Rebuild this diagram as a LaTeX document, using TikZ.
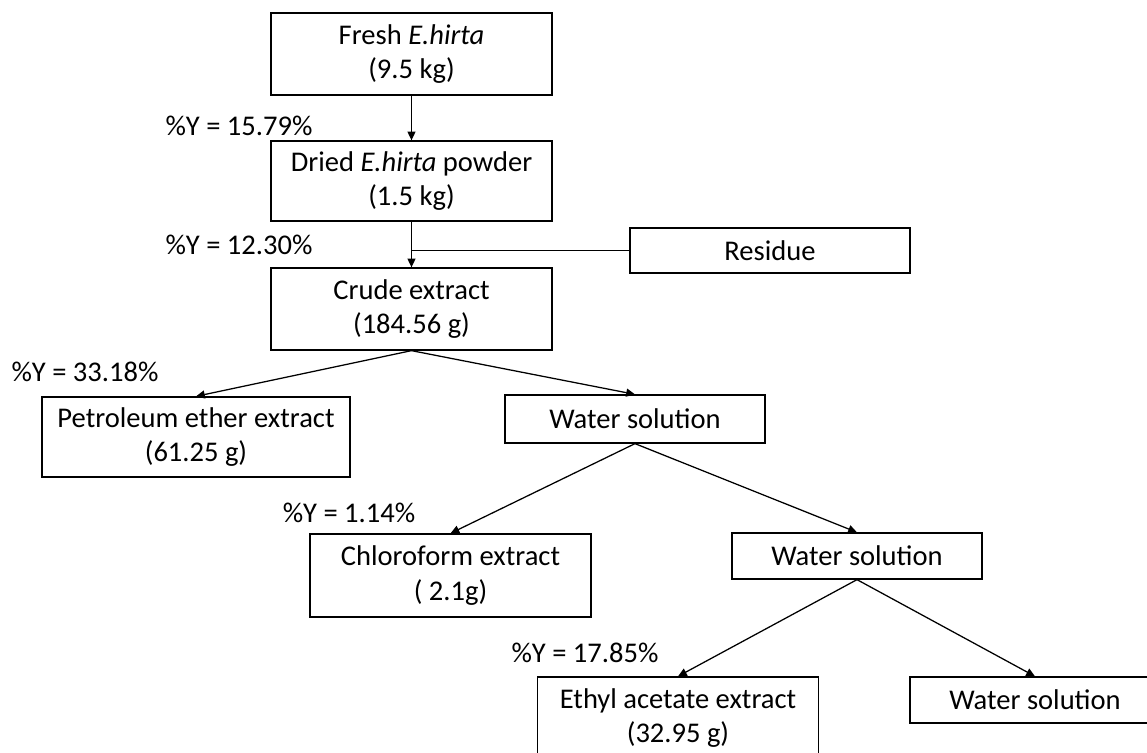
\documentclass[tikz,border=0pt]{standalone}
\usepackage{fontspec}
\setmainfont{Carlito}
\usetikzlibrary{arrows.meta,calc}

\begin{document}
\begin{tikzpicture}[x=0.025cm,y=-0.025cm,
    box/.style={draw,line width=0.9pt,align=center,inner sep=0pt,
        font=\fontsize{20.3}{24.5}\selectfont},
    yield/.style={inner sep=0pt,font=\fontsize{20.3}{24.5}\selectfont},
    flow/.style={line width=0.9pt,-{Triangle[length=2.2mm,width=2mm]}}]
        \useasboundingbox (0,0) rectangle (1147,753);
        \clip (0,0) rectangle (1147,753);
        % Boxes
            \node[box,minimum width=7.025cm,minimum height=2.05cm] (fresh) at (411.5,54) {Fresh \textit{E.hirta}\\(9.5 kg)};
            \node[box,minimum width=7.025cm,minimum height=2cm] (dried) at (411.5,181) {Dried \textit{E.hirta} powder\\(1.5 kg)};
            \node[box,minimum width=7.025cm,minimum height=2.05cm] (crude) at (411.5,309) {Crude extract\\(184.56 g)};
            \node[box,minimum width=7cm,minimum height=1.125cm] (res) at (770,250.5) {Residue};
            \node[box,minimum width=7.7cm,minimum height=2cm] (pet) at (196,437) {Petroleum ether extract\\(61.25 g)};
            \node[box,minimum width=6.5cm,minimum height=1.2cm] (wat1) at (635,419) {Water solution};
            \node[box,minimum width=7.025cm,minimum height=2.075cm] (chl) at (450.5,575.5) {Chloroform extract\\( 2.1g)};
            \node[box,minimum width=6.25cm,minimum height=1.15cm] (wat2) at (857,556) {Water solution};
            \node[box,minimum width=7.025cm,minimum height=2.05cm] (eth) at (678,718) {Ethyl acetate extract\\(32.95 g)};
            \node[box,minimum width=6.25cm,minimum height=1.15cm] (wat3) at (1035,700) {Water solution};
        % Yield labels
            \node[yield] (y1) at (239,126) {\%Y = 15.79\%};
            \node[yield] (y2) at (239,245) {\%Y = 12.30\%};
            \node[yield] (y3) at (85,372) {\%Y = 33.18\%};
            \node[yield] (y4) at (349,513) {\%Y = 1.14\%};
            \node[yield] (y5) at (585,653) {\%Y = 17.85\%};
        % Arrows
            \draw[flow] (fresh) -- (dried);
            \draw[flow] (dried) -- (crude);
            \draw[line width=0.9pt] (res.west) -- (res.west -| dried.south);
            \draw[flow] (crude.south) -- (pet.north);
            \draw[flow] (crude.south) -- (wat1.north);
            \draw[flow] (wat1.south) -- (chl.north);
            \draw[flow] (wat1.south) -- (wat2.north);
            \draw[flow] (wat2.south) -- (eth.north);
            \draw[flow] (wat2.south) -- (wat3.north);
    \end{tikzpicture}
\end{document}
